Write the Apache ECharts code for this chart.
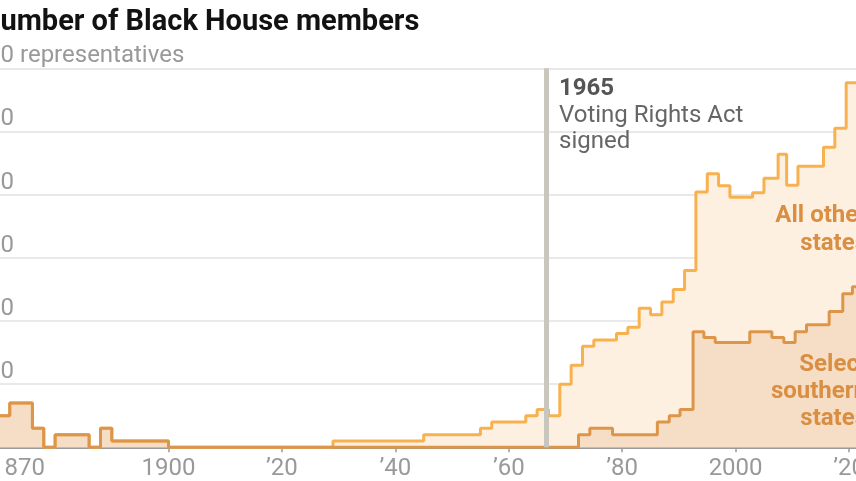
<!DOCTYPE html>
<html>
<head>
<meta charset="utf-8">
<script src="https://cdn.jsdelivr.net/npm/echarts@6/dist/echarts.min.js"></script>
<style>
  html, body { margin: 0; padding: 0; background: #fff; }
  #chart { width: 856px; height: 481px; }
</style>
</head>
<body>
<div id="chart"></div>
<script>
// step positions (years) and member counts
const southYears = [1870, 1872, 1876, 1878, 1880, 1886, 1888, 1890, 1900, 1972.3, 1974.3, 1978.3, 1986.2, 1988.3, 1990.2, 1992.5, 1994.4, 1996.4, 2002.5, 2006.4, 2008.5, 2010.5, 2012.5, 2016.5, 2018.9, 2020.6, 2024]
const southCounts = [5, 7, 3, 0, 2, 0, 3, 1, 0, 2, 3, 2, 4, 5, 6, 18.3, 17.4, 16.6, 18.3, 17.4, 16.6, 18.3, 19.4, 21.5, 24.3, 25.4, 25.4]
const totalYears = [1870, 1872, 1876, 1878, 1880, 1886, 1888, 1890, 1900, 1929, 1945, 1955, 1957, 1963, 1965, 1967, 1969, 1971, 1973, 1975, 1979, 1981, 1983, 1985, 1987, 1989, 1991, 1993, 1995, 1997, 1999, 2003, 2005, 2007.5, 2009, 2011, 2015.5, 2017.5, 2019.5, 2024]
const totalCounts = [5, 7, 3, 0, 2, 0, 3, 1, 0, 1, 2, 3, 4, 5, 6, 5, 10, 13, 16, 17, 18, 19, 22, 21, 23, 25, 28, 40.4, 43.3, 41.4, 39.6, 40.3, 42.6, 46.4, 41.5, 44.5, 47.5, 50.5, 57.7, 57.7]
const xTicks = [1900, 1920, 1940, 1960, 1980, 2000, 2020]
const xLabels = [1870, 1900, 1920, 1940, 1960, 1980, 2000, 2020]
const vraYear = 1966.55

const FONT = 'Roboto, "Noto Sans", sans-serif'
const chart = echarts.init(document.getElementById('chart'))

const pairs = (xs, ys) => xs.map((x, i) => [x, ys[i]])

chart.setOption({
  animation: false,
  grid: { left: -12.94, right: -15.7, top: 68.3, bottom: 33.7, containLabel: false, outerBoundsMode: 'none' },
  xAxis: {
    type: 'value',
    min: 1868,
    max: 2024,
    splitLine: { show: false },
    axisLine: { lineStyle: { color: '#9a9a9a', width: 2 } },
    axisTick: { customValues: xTicks, length: 5, lineStyle: { color: '#9a9a9a', width: 1.5 } },
    axisLabel: {
      customValues: xLabels,
      color: '#999',
      fontFamily: FONT,
      fontSize: 24,
      margin: 10,
      formatter: function (v) {
        if (v === 1870) return '{first|1870}'
        if (v === 1900 || v === 2000) return String(v)
        return '\u2019' + String(v).slice(2)
      },
      rich: {
        first: { padding: [0, 0, 0, 39], color: '#999', fontFamily: FONT, fontSize: 24 }
      }
    }
  },
  yAxis: {
    type: 'value',
    min: 0,
    max: 60,
    interval: 10,
    axisLine: { show: false },
    axisTick: { show: false },
    splitLine: { lineStyle: { color: '#e2e2e2', width: 1.5 } },
    axisLabel: {
      inside: true,
      margin: 0,
      align: 'left',
      verticalAlign: 'bottom',
      color: '#999',
      fontFamily: FONT,
      fontSize: 24,
      formatter: function (v) {
        if (v === 0) return ''
        if (v === 60) return '60 representatives'
        return String(v)
      }
    }
  },
  series: [
    {
      name: 'All other states',
      type: 'line',
      step: 'end',
      symbol: 'none',
      data: pairs(totalYears, totalCounts),
      lineStyle: { color: '#f7b14f', width: 3 },
      areaStyle: { color: '#fdf0e1', opacity: 1 }
    },
    {
      name: 'Select southern states',
      type: 'line',
      step: 'end',
      symbol: 'none',
      data: pairs(southYears, southCounts),
      lineStyle: { color: '#dd9649', width: 3 },
      areaStyle: { color: '#f6ddc5', opacity: 1 },
      markLine: {
        silent: true,
        symbol: 'none',
        label: { show: false },
        lineStyle: { color: '#c9c6bd', width: 5, type: 'solid' },
        data: [{ xAxis: vraYear }]
      }
    }
  ],
  graphic: [
    {
      type: 'text',
      z: 100,
      x: -20,
      y: 8,
      style: { text: 'Number of Black House members', font: 'bold 29px ' + FONT, fill: '#121212', verticalAlign: 'top', textVerticalAlign: 'top' }
    },
    {
      type: 'text',
      z: 100,
      x: 559,
      y: 77,
      style: { text: '1965', font: 'bold 24px ' + FONT, fill: '#555', verticalAlign: 'top', textVerticalAlign: 'top' }
    },
    {
      type: 'text',
      z: 100,
      x: 559,
      y: 103,
      style: { text: 'Voting Rights Act\nsigned', font: '24px ' + FONT, fill: '#666', lineHeight: 26, verticalAlign: 'top', textVerticalAlign: 'top' }
    },
    {
      type: 'text',
      z: 100,
      x: 867,
      y: 202,
      style: { text: 'All other\nstates', font: 'bold 24px ' + FONT, fill: '#d98e42', lineHeight: 28, align: 'right', textAlign: 'right', verticalAlign: 'top', textVerticalAlign: 'top' }
    },
    {
      type: 'text',
      z: 100,
      x: 867,
      y: 351,
      style: { text: 'Select\nsouthern\nstates', font: 'bold 24px ' + FONT, fill: '#d98e42', lineHeight: 27, align: 'right', textAlign: 'right', verticalAlign: 'top', textVerticalAlign: 'top' }
    }
  ]
})
</script>
</body>
</html>
